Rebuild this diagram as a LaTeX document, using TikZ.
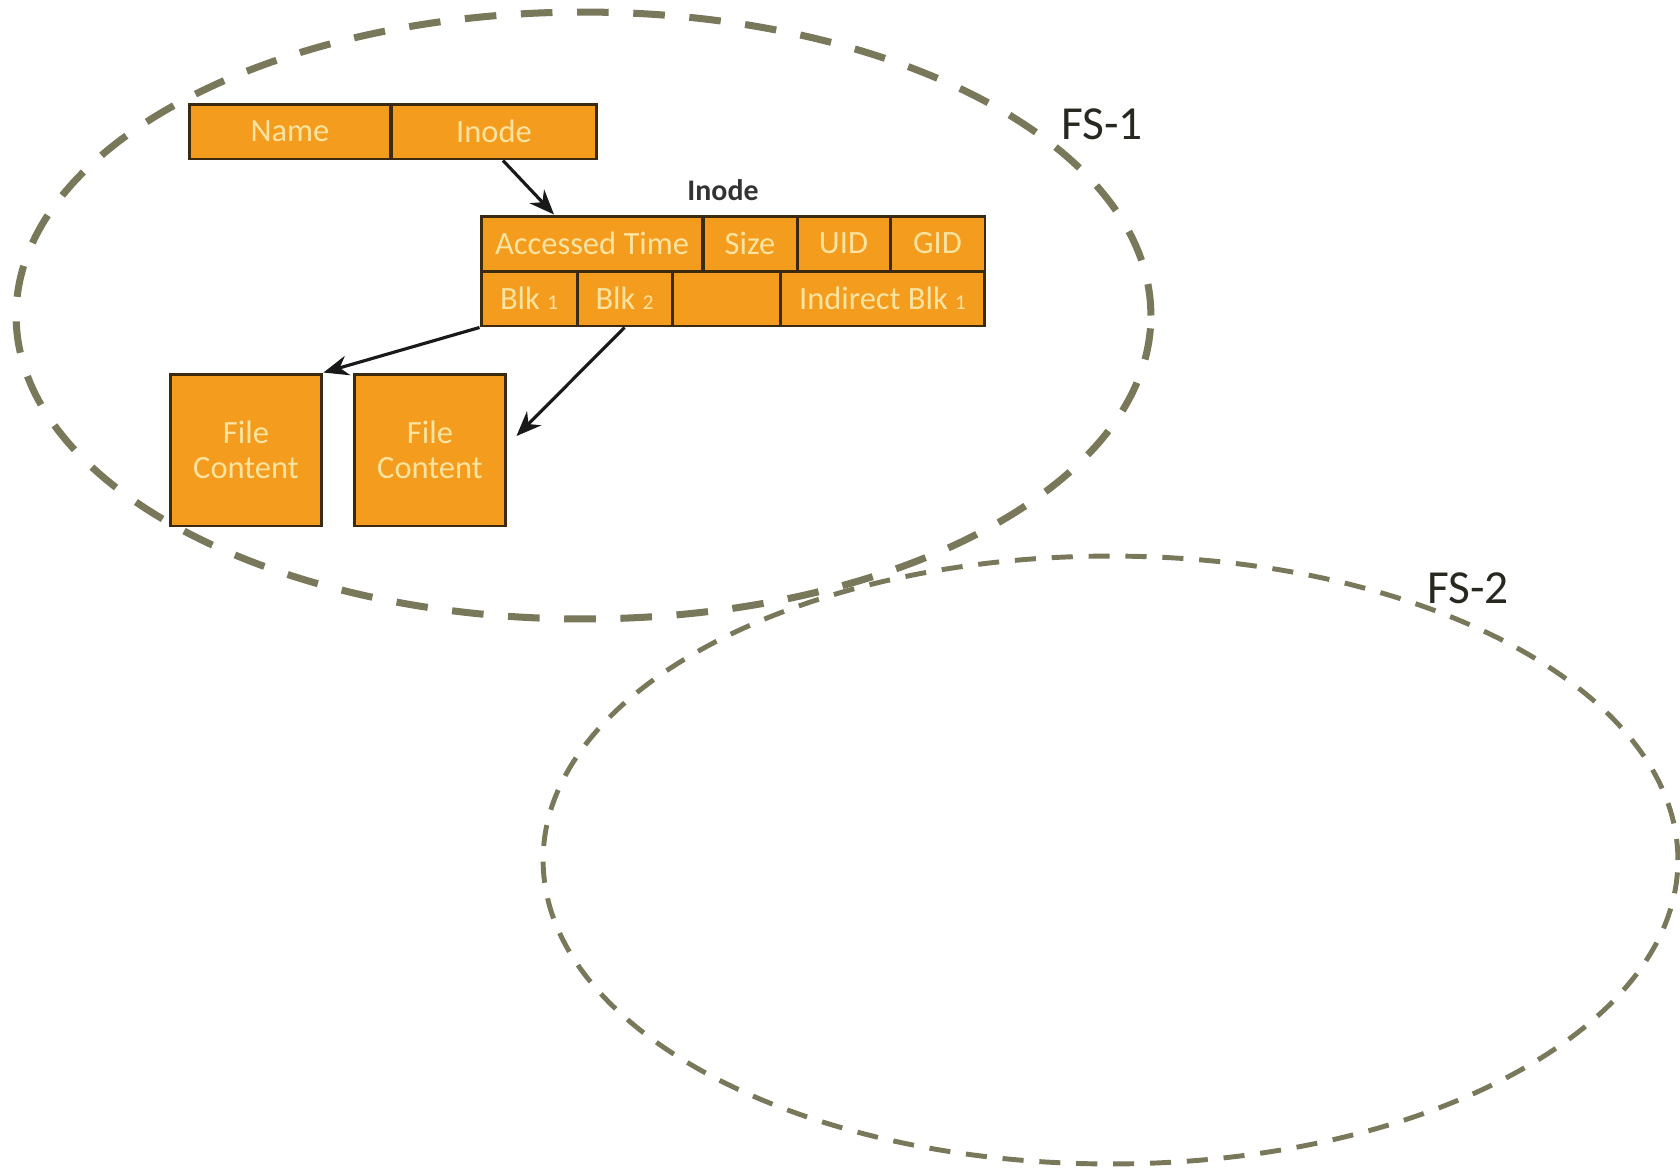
\documentclass[tikz,border=0pt]{standalone}
\usepackage{fontspec}
\setmainfont{Carlito}
\usepackage{tikz}
\usetikzlibrary{arrows.meta}

\definecolor{ringgray}{RGB}{122,120,90}
\definecolor{cellfill}{RGB}{244,156,30}
\definecolor{cellline}{RGB}{60,42,16}
\definecolor{celltext}{RGB}{252,228,160}
\definecolor{labeltext}{RGB}{40,40,32}

\begin{document}
\begin{tikzpicture}[x=0.02cm, y=-0.02cm,
    cell/.style={rectangle, draw=cellline, fill=cellfill, line width=1.7pt, text=celltext,
        inner sep=0pt, minimum height=1.1cm, font=\fontsize{18.5}{20}\selectfont},
    filebox/.style={cell, minimum width=3.04cm, minimum height=3.04cm, align=center},
    ring/.style={draw=ringgray, line width=4pt, dash pattern=on 18pt off 14pt},
    thinring/.style={draw=ringgray, line width=2.8pt, dash pattern=on 12pt off 9pt},
    fslabel/.style={text=labeltext, font=\fontsize{27}{32}\selectfont},
    link/.style={-{Stealth[length=0.5cm, width=0.4cm]}, line width=1.8pt, draw=black!90}
    ]
    \useasboundingbox (0,0) rectangle (1680,1167);
    \node (NameCell) [cell, minimum width=4.04cm] at (290,131.5) {Name};
    \node (InodeCell) [cell, minimum width=4.12cm] at (494,131.5) {Inode};
    \node (InodeTitle) [font=\bfseries\fontsize{17}{20}\selectfont, text=black!80] at (723,190) {Inode};
    \node (AccTime) [cell, minimum width=4.44cm] at (592,243.5) {Accessed Time};
    \node (SizeCell) [cell, minimum width=1.88cm] at (750,243.5) {Size};
    \node (UidCell) [cell, minimum width=1.86cm] at (843.5,243.5) {UID};
    \node (GidCell) [cell, minimum width=1.9cm] at (937.5,243.5) {GID};
    \node (BlkOne) [cell, minimum width=1.92cm] at (529,298.5) {Blk {\fontsize{12}{12}\selectfont 1}};
    \node (BlkTwo) [cell, minimum width=1.9cm] at (624.5,298.5) {Blk {\fontsize{12}{12}\selectfont 2}};
    \node (BlkEmpty) [cell, minimum width=2.16cm] at (726,298.5) {};
    \node (IndBlk) [cell, minimum width=4.1cm] at (882.5,298.5) {Indirect Blk {\fontsize{12}{12}\selectfont 1}};
    \node (FileOne) [filebox] at (246,450) {File\\Content};
    \node (FileTwo) [filebox] at (430,450) {File\\Content};

    \draw[link] ([xshift=0.18cm]InodeCell.south) -- ([xshift=-0.76cm]AccTime.north);
    \draw[link] (BlkOne.south west) -- (FileOne.north east);
    \draw[link] (BlkTwo.south) -- ([shift={(0.18cm,0.28cm)}]FileTwo.east);

    \draw[ring] (583.5,315.5) ellipse [x radius=11.35cm, y radius=6.07cm];
    \draw[thinring] (1110.5,860) ellipse [x radius=11.35cm, y radius=6.08cm];
    \node (FsOne) [fslabel] at (1102,124) {FS-1};
    \node (FsTwo) [fslabel] at (1468,588) {FS-2};
\end{tikzpicture}
\end{document}
